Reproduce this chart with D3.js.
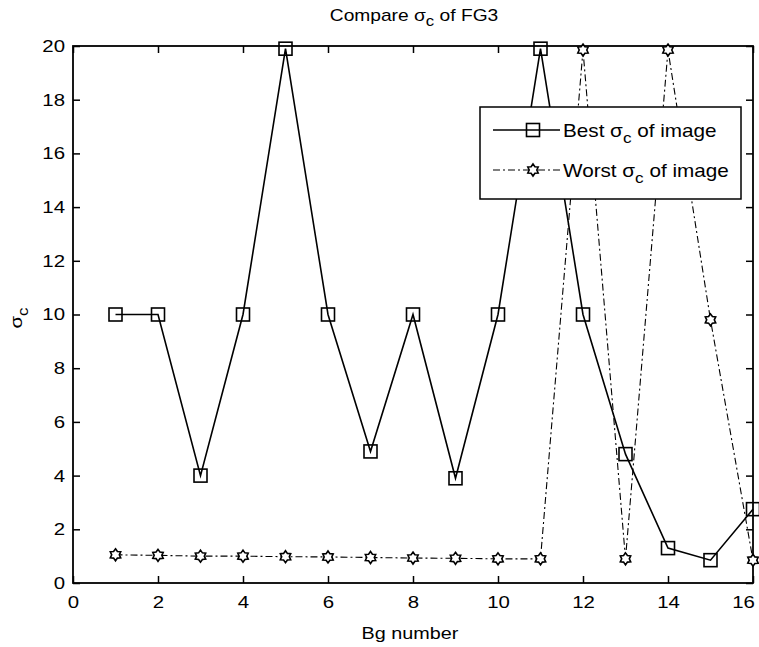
<!DOCTYPE html>
<html><head><meta charset="utf-8">
<script src="https://cdn.jsdelivr.net/npm/d3@7"></script>
<style>body{margin:0;background:#fff}svg{display:block}text{font-family:Arial,"Liberation Sans",sans-serif;fill:#000}</style>
</head><body><svg id="c" width="759" height="647"></svg>
<script>
const bgNumbers = [1,2,3,4,5,6,7,8,9,10,11,12,13,14,15,16];
const bestSigma = [10,10,4,10,19.9,10,4.9,10,3.9,10,19.9,10,4.8,1.3,0.85,2.75];
const worstSigma = [1.05,1.03,1.0,1.0,0.98,0.97,0.95,0.93,0.92,0.9,0.9,19.85,0.9,19.85,9.8,0.85];
const xTicks = [0,2,4,6,8,10,12,14,16];
const yTicks = [0,2,4,6,8,10,12,14,16,18,20];

const svg = d3.select("#c");
const L=73,R=753,T=46,B=583;
const SX=1.2;
const x = d3.scaleLinear().domain([0,16]).range([L,R]);
const y = d3.scaleLinear().domain([0,20]).range([B,T]);
const fs = 17;

function stretchAround(sel){
  sel.attr("transform",function(){const ax=+(this.getAttribute("x")||0);return `translate(${ax},0) scale(${SX},1) translate(${-ax},0)`;});
}

svg.append("g").attr("transform",`translate(0,${B})`)
  .call(d3.axisBottom(x).tickValues(xTicks).tickSize(-7).tickPadding(13).tickSizeOuter(0))
  .call(g=>g.select(".domain").remove())
  .call(g=>{g.selectAll("text").attr("font-size",fs).attr("font-family","Arial, Liberation Sans");
            g.selectAll(".tick").filter(d=>d===16).select("text").attr("x",-10);
            stretchAround(g.selectAll("text"));});
svg.append("g").attr("transform",`translate(0,${T})`)
  .call(d3.axisTop(x).tickValues(xTicks).tickSize(-7).tickFormat("").tickSizeOuter(0))
  .call(g=>g.select(".domain").remove());
svg.append("g").attr("transform",`translate(${L},0)`)
  .call(d3.axisLeft(y).tickValues(yTicks).tickSize(-7).tickPadding(8).tickSizeOuter(0))
  .call(g=>g.select(".domain").remove())
  .call(g=>{g.selectAll("text").attr("font-size",fs).attr("font-family","Arial, Liberation Sans"); stretchAround(g.selectAll("text"));});
svg.append("g").attr("transform",`translate(${R},0)`)
  .call(d3.axisRight(y).tickValues(yTicks).tickSize(-7).tickFormat("").tickSizeOuter(0))
  .call(g=>g.select(".domain").remove());
svg.selectAll(".tick line").attr("stroke","#000").attr("stroke-width",1.5);
svg.append("rect").attr("x",L).attr("y",T).attr("width",R-L).attr("height",B-T)
  .attr("fill","none").attr("stroke","#000").attr("stroke-width",1.8);

const line = d3.line().x((d,i)=>x(bgNumbers[i])).y(d=>y(d));
svg.append("path").datum(bestSigma).attr("d",line).attr("fill","none").attr("stroke","#000").attr("stroke-width",1.6);
svg.append("path").datum(worstSigma).attr("d",line).attr("fill","none").attr("stroke","#000").attr("stroke-width",1.1).attr("stroke-dasharray","7,3,2,3");

function star(g, cx, cy){
  const pts=[];
  for(let k=0;k<12;k++){const a=Math.PI/6*k - Math.PI/2; const r=k%2===0?6:3.8; pts.push([cx+r*Math.cos(a), cy+r*Math.sin(a)]);}
  g.append("polygon").attr("points",pts.map(p=>p.join(",")).join(" ")).attr("fill","#fff").attr("stroke","#000").attr("stroke-width",1.6);
}
function square(g,cx,cy){
  g.append("rect").attr("x",cx-6.5).attr("y",cy-6.5).attr("width",13).attr("height",13).attr("fill","none").attr("stroke","#000").attr("stroke-width",1.6);
}
const mk = svg.append("g");
bestSigma.forEach((v,i)=>square(mk,x(bgNumbers[i]),y(v)));
worstSigma.forEach((v,i)=>star(mk,x(bgNumbers[i]),y(v)));

// title
const title = svg.append("text").attr("transform",`translate(414,21) scale(${SX},1)`).attr("text-anchor","middle").attr("font-size",16);
title.append("tspan").text("Compare σ");
title.append("tspan").attr("dy",5).attr("font-size",14).text("c");
title.append("tspan").attr("dy",-5).text(" of FG3");

svg.append("text").attr("transform",`translate(410,639) scale(${SX},1)`).attr("text-anchor","middle").attr("font-size",16.5).text("Bg number");
const yl = svg.append("text").attr("transform",`translate(22,318) rotate(-90) scale(${SX},1)`).attr("text-anchor","middle").attr("font-size",17);
yl.append("tspan").text("σ");
yl.append("tspan").attr("dy",6).attr("font-size",14).text("c");

// legend
const lg = svg.append("g");
lg.append("rect").attr("x",480).attr("y",107).attr("width",261).attr("height",92).attr("fill","#fff").attr("stroke","#000").attr("stroke-width",1.5);
const items=[{name:"Best ",dash:null,sw:1.6,m:square,yy:130},{name:"Worst ",dash:"7,3,2,3",sw:1.1,m:star,yy:170}];
items.forEach(it=>{
  lg.append("line").attr("x1",493).attr("x2",560).attr("y1",it.yy).attr("y2",it.yy).attr("stroke","#000").attr("stroke-width",it.sw).attr("stroke-dasharray",it.dash);
  it.m(lg,533,it.yy);
  const t=lg.append("text").attr("transform",`translate(563,${it.yy+7}) scale(1.15,1)`).attr("font-size",18);
  t.append("tspan").text(it.name+"σ");
  t.append("tspan").attr("dy",6).attr("font-size",15).text("c");
  t.append("tspan").attr("dy",-6).text(" of image");
});
</script></body></html>
